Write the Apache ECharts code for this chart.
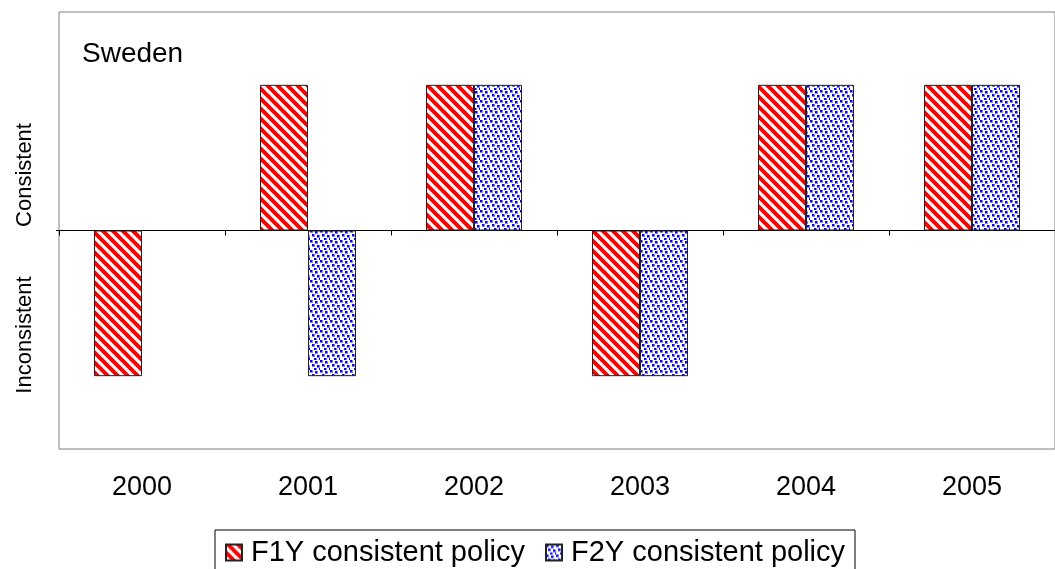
<!DOCTYPE html>
<html>
<head>
<meta charset="utf-8">
<script src="https://cdn.jsdelivr.net/npm/echarts@6/dist/echarts.min.js"></script>
<style>
  html, body { margin: 0; padding: 0; background: #fff; }
  #chart { width: 1055px; height: 569px; }
</style>
</head>
<body>
<div id="chart"></div>
<script>
const years = ['2000', '2001', '2002', '2003', '2004', '2005']
// 1 = consistent, -1 = inconsistent, null = no bar
const f1y = [-1, 1, 1, -1, 1, 1]
const f2y = [null, -1, 1, -1, 1, 1]

const font = 'Liberation Sans, Arial, sans-serif'

// red diagonal stripes
function stripePattern () {
  const n = 10
  const c = document.createElement('canvas')
  c.width = n
  c.height = n
  const ctx = c.getContext('2d')
  ctx.fillStyle = '#fff'
  ctx.fillRect(0, 0, n, n)
  for (let y = 0; y < n; y++) {
    for (let x = 0; x < n; x++) {
      const k = ((x - y) % n + n) % n
      if (k < 5) {
        ctx.fillStyle = '#ff0000'
        ctx.fillRect(x, y, 1, 1)
      } else if (k === 5 || k === 9) {
        ctx.fillStyle = '#ffb0b0'
        ctx.fillRect(x, y, 1, 1)
      }
    }
  }
  return c
}

// blue dotted pattern
function dotPattern () {
  const n = 10
  const c = document.createElement('canvas')
  c.width = n
  c.height = n
  const ctx = c.getContext('2d')
  ctx.fillStyle = '#fff'
  ctx.fillRect(0, 0, n, n)
  const dots = [[0, 0], [5, 1], [2, 4], [7, 5], [4, 8], [9, 8]]
  dots.forEach(d => {
    ctx.fillStyle = '#8080ff'
    ctx.fillRect(d[0], d[1], 3, 3)
    ctx.fillStyle = '#0000ff'
    ctx.fillRect(d[0], d[1], 2, 2)
  })
  return c
}

const chart = echarts.init(document.getElementById('chart'))
chart.setOption({
  animation: false,
  textStyle: { fontFamily: font },
  grid: {
    left: 59,
    right: 0,
    top: 12,
    bottom: 120,
    show: true,
    borderColor: '#808080',
    borderWidth: 1
  },
  graphic: [
    { type: 'text', x: 82, y: 54, style: { text: 'Sweden', fontSize: 28, fill: '#000', verticalAlign: 'middle', fontFamily: font } },
    { type: 'text', x: 25, y: 175, rotation: Math.PI / 2, style: { text: 'Consistent', fontSize: 22, fill: '#000', align: 'center', verticalAlign: 'middle', fontFamily: font } },
    { type: 'text', x: 25, y: 335, rotation: Math.PI / 2, style: { text: 'Inconsistent', fontSize: 22, fill: '#000', align: 'center', verticalAlign: 'middle', fontFamily: font } }
  ],
  legend: {
    top: 530,
    left: 215,
    itemWidth: 16,
    itemHeight: 16,
    itemGap: 20,
    icon: 'rect',
    borderColor: '#000',
    borderWidth: 1,
    padding: [8, 10, 12, 10],
    textStyle: { fontSize: 29, color: '#000', padding: [0, 0, 0, 4] },
    data: ['F1Y consistent policy', 'F2Y consistent policy']
  },
  xAxis: [
    {
      type: 'category',
      data: years,
      axisLine: { onZero: true, lineStyle: { color: '#000', width: 1 } },
      axisTick: { show: true, length: 5, lineStyle: { color: '#000' } },
      axisLabel: { show: false }
    },
    {
      type: 'category',
      data: years,
      position: 'bottom',
      axisLine: { show: false, onZero: false },
      axisTick: { show: false },
      axisLabel: { fontSize: 27, color: '#000', margin: 25 }
    }
  ],
  yAxis: {
    type: 'value',
    min: -1.5,
    max: 1.5,
    interval: 1.5,
    axisLine: { show: false },
    axisTick: { show: true, customValues: [0], length: 3, lineStyle: { color: '#000' } },
    axisLabel: { show: false },
    splitLine: { show: false }
  },
  series: [
    {
      name: 'F1Y consistent policy',
      type: 'bar',
      xAxisIndex: 0,
      data: f1y,
      barWidth: 48,
      barGap: '0%',
      itemStyle: {
        color: { image: stripePattern(), repeat: 'repeat' },
        borderColor: '#222',
        borderWidth: 1
      }
    },
    {
      name: 'F2Y consistent policy',
      type: 'bar',
      xAxisIndex: 0,
      data: f2y,
      barWidth: 48,
      barGap: '0%',
      itemStyle: {
        color: { image: dotPattern(), repeat: 'repeat' },
        borderColor: '#222',
        borderWidth: 1
      }
    }
  ]
})
</script>
</body>
</html>
